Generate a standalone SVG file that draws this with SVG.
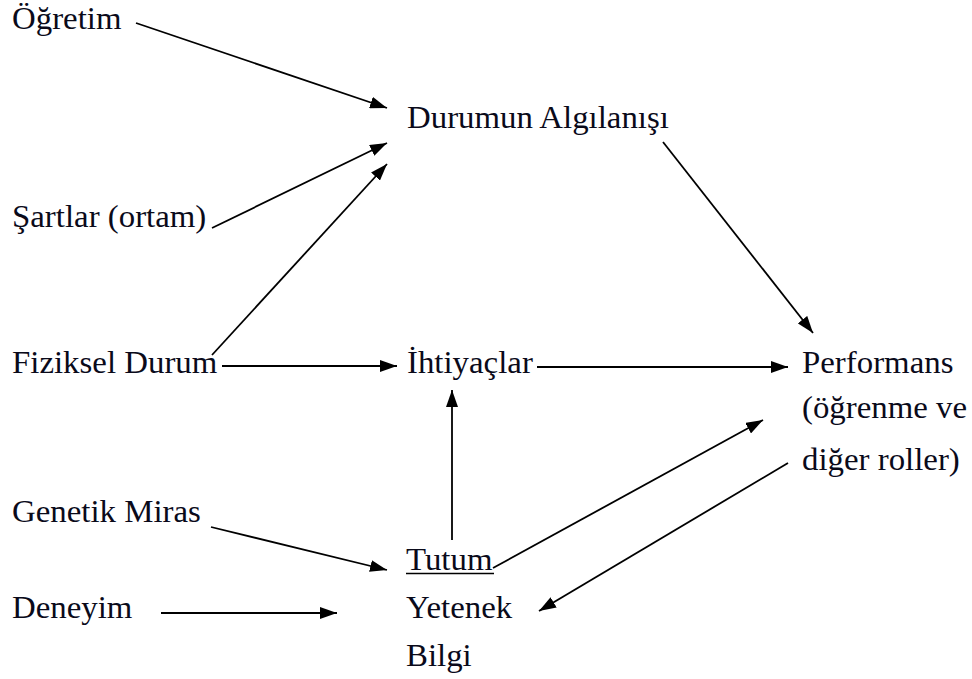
<svg xmlns="http://www.w3.org/2000/svg" width="972" height="679" viewBox="0 0 972 679">
<defs>
<marker id="ah" viewBox="0 0 17 12" refX="17" refY="6" markerWidth="17" markerHeight="12" markerUnits="userSpaceOnUse" orient="auto">
<path d="M0,0 L17,6 L0,12 z" fill="#000"/>
</marker>
</defs>
<rect width="972" height="679" fill="#fff"/>
<text x="12" y="29" font-size="31" font-family="Liberation Serif" fill="#0a0a1a" transform="translate(12 29) scale(1.06 1) translate(-12 -29)" id="ogretim">Öğretim</text>
<text x="407" y="128" font-size="31" font-family="Liberation Serif" fill="#0a0a1a" transform="translate(407 128) scale(1.06 1) translate(-407 -128)" id="durumun">Durumun Algılanışı</text>
<text x="12" y="227" font-size="31" font-family="Liberation Serif" fill="#0a0a1a" transform="translate(12 227) scale(1.06 1) translate(-12 -227)" id="sartlar">Şartlar (ortam)</text>
<text x="12" y="373" font-size="31" font-family="Liberation Serif" fill="#0a0a1a" transform="translate(12 373) scale(1.06 1) translate(-12 -373)" id="fiziksel">Fiziksel Durum</text>
<text x="407" y="373" font-size="31" font-family="Liberation Serif" fill="#0a0a1a" transform="translate(407 373) scale(1.06 1) translate(-407 -373)" id="ihtiyaclar">İhtiyaçlar</text>
<g id="performans">
<text x="802" y="373" font-size="31" font-family="Liberation Serif" fill="#0a0a1a" transform="translate(802 373) scale(1.06 1) translate(-802 -373)">Performans</text>
<text x="802" y="418" font-size="31" font-family="Liberation Serif" fill="#0a0a1a" transform="translate(802 418) scale(1.06 1) translate(-802 -418)">(öğrenme ve</text>
<text x="802" y="470" font-size="31" font-family="Liberation Serif" fill="#0a0a1a" transform="translate(802 470) scale(1.06 1) translate(-802 -470)">diğer roller)</text>
</g>
<text x="12" y="522" font-size="31" font-family="Liberation Serif" fill="#0a0a1a" transform="translate(12 522) scale(1.06 1) translate(-12 -522)" id="genetik">Genetik Miras</text>
<text x="12" y="618" font-size="31" font-family="Liberation Serif" fill="#0a0a1a" transform="translate(12 618) scale(1.06 1) translate(-12 -618)" id="deneyim">Deneyim</text>
<g id="tutum">
<text x="406" y="570" font-size="31" font-family="Liberation Serif" fill="#0a0a1a" transform="translate(406 570) scale(1.06 1) translate(-406 -570)">Tutum</text>
<line x1="406" y1="573.5" x2="494" y2="573.5" stroke="#000" stroke-width="1.5"/>
<text x="406" y="618" font-size="31" font-family="Liberation Serif" fill="#0a0a1a" transform="translate(406 618) scale(1.06 1) translate(-406 -618)">Yetenek</text>
<text x="406" y="666" font-size="31" font-family="Liberation Serif" fill="#0a0a1a" transform="translate(406 666) scale(1.06 1) translate(-406 -666)">Bilgi</text>
</g>
<g id="connectors" stroke="#000" stroke-width="1.8" fill="none">
<line x1="136" y1="23" x2="387" y2="108" marker-end="url(#ah)"/>
<line x1="212" y1="228" x2="387" y2="143" marker-end="url(#ah)"/>
<line x1="212" y1="355" x2="387" y2="164" marker-end="url(#ah)"/>
<line x1="222" y1="366" x2="397" y2="366" marker-end="url(#ah)"/>
<line x1="537" y1="367" x2="788" y2="367" marker-end="url(#ah)"/>
<line x1="663" y1="142" x2="813" y2="333" marker-end="url(#ah)"/>
<line x1="452" y1="540" x2="452" y2="390" marker-end="url(#ah)"/>
<line x1="493" y1="568" x2="763" y2="420" marker-end="url(#ah)"/>
<line x1="788" y1="463" x2="539" y2="611" marker-end="url(#ah)"/>
<line x1="211" y1="527" x2="387" y2="570" marker-end="url(#ah)"/>
<line x1="161" y1="613" x2="337" y2="613" marker-end="url(#ah)"/>
</g>
</svg>
